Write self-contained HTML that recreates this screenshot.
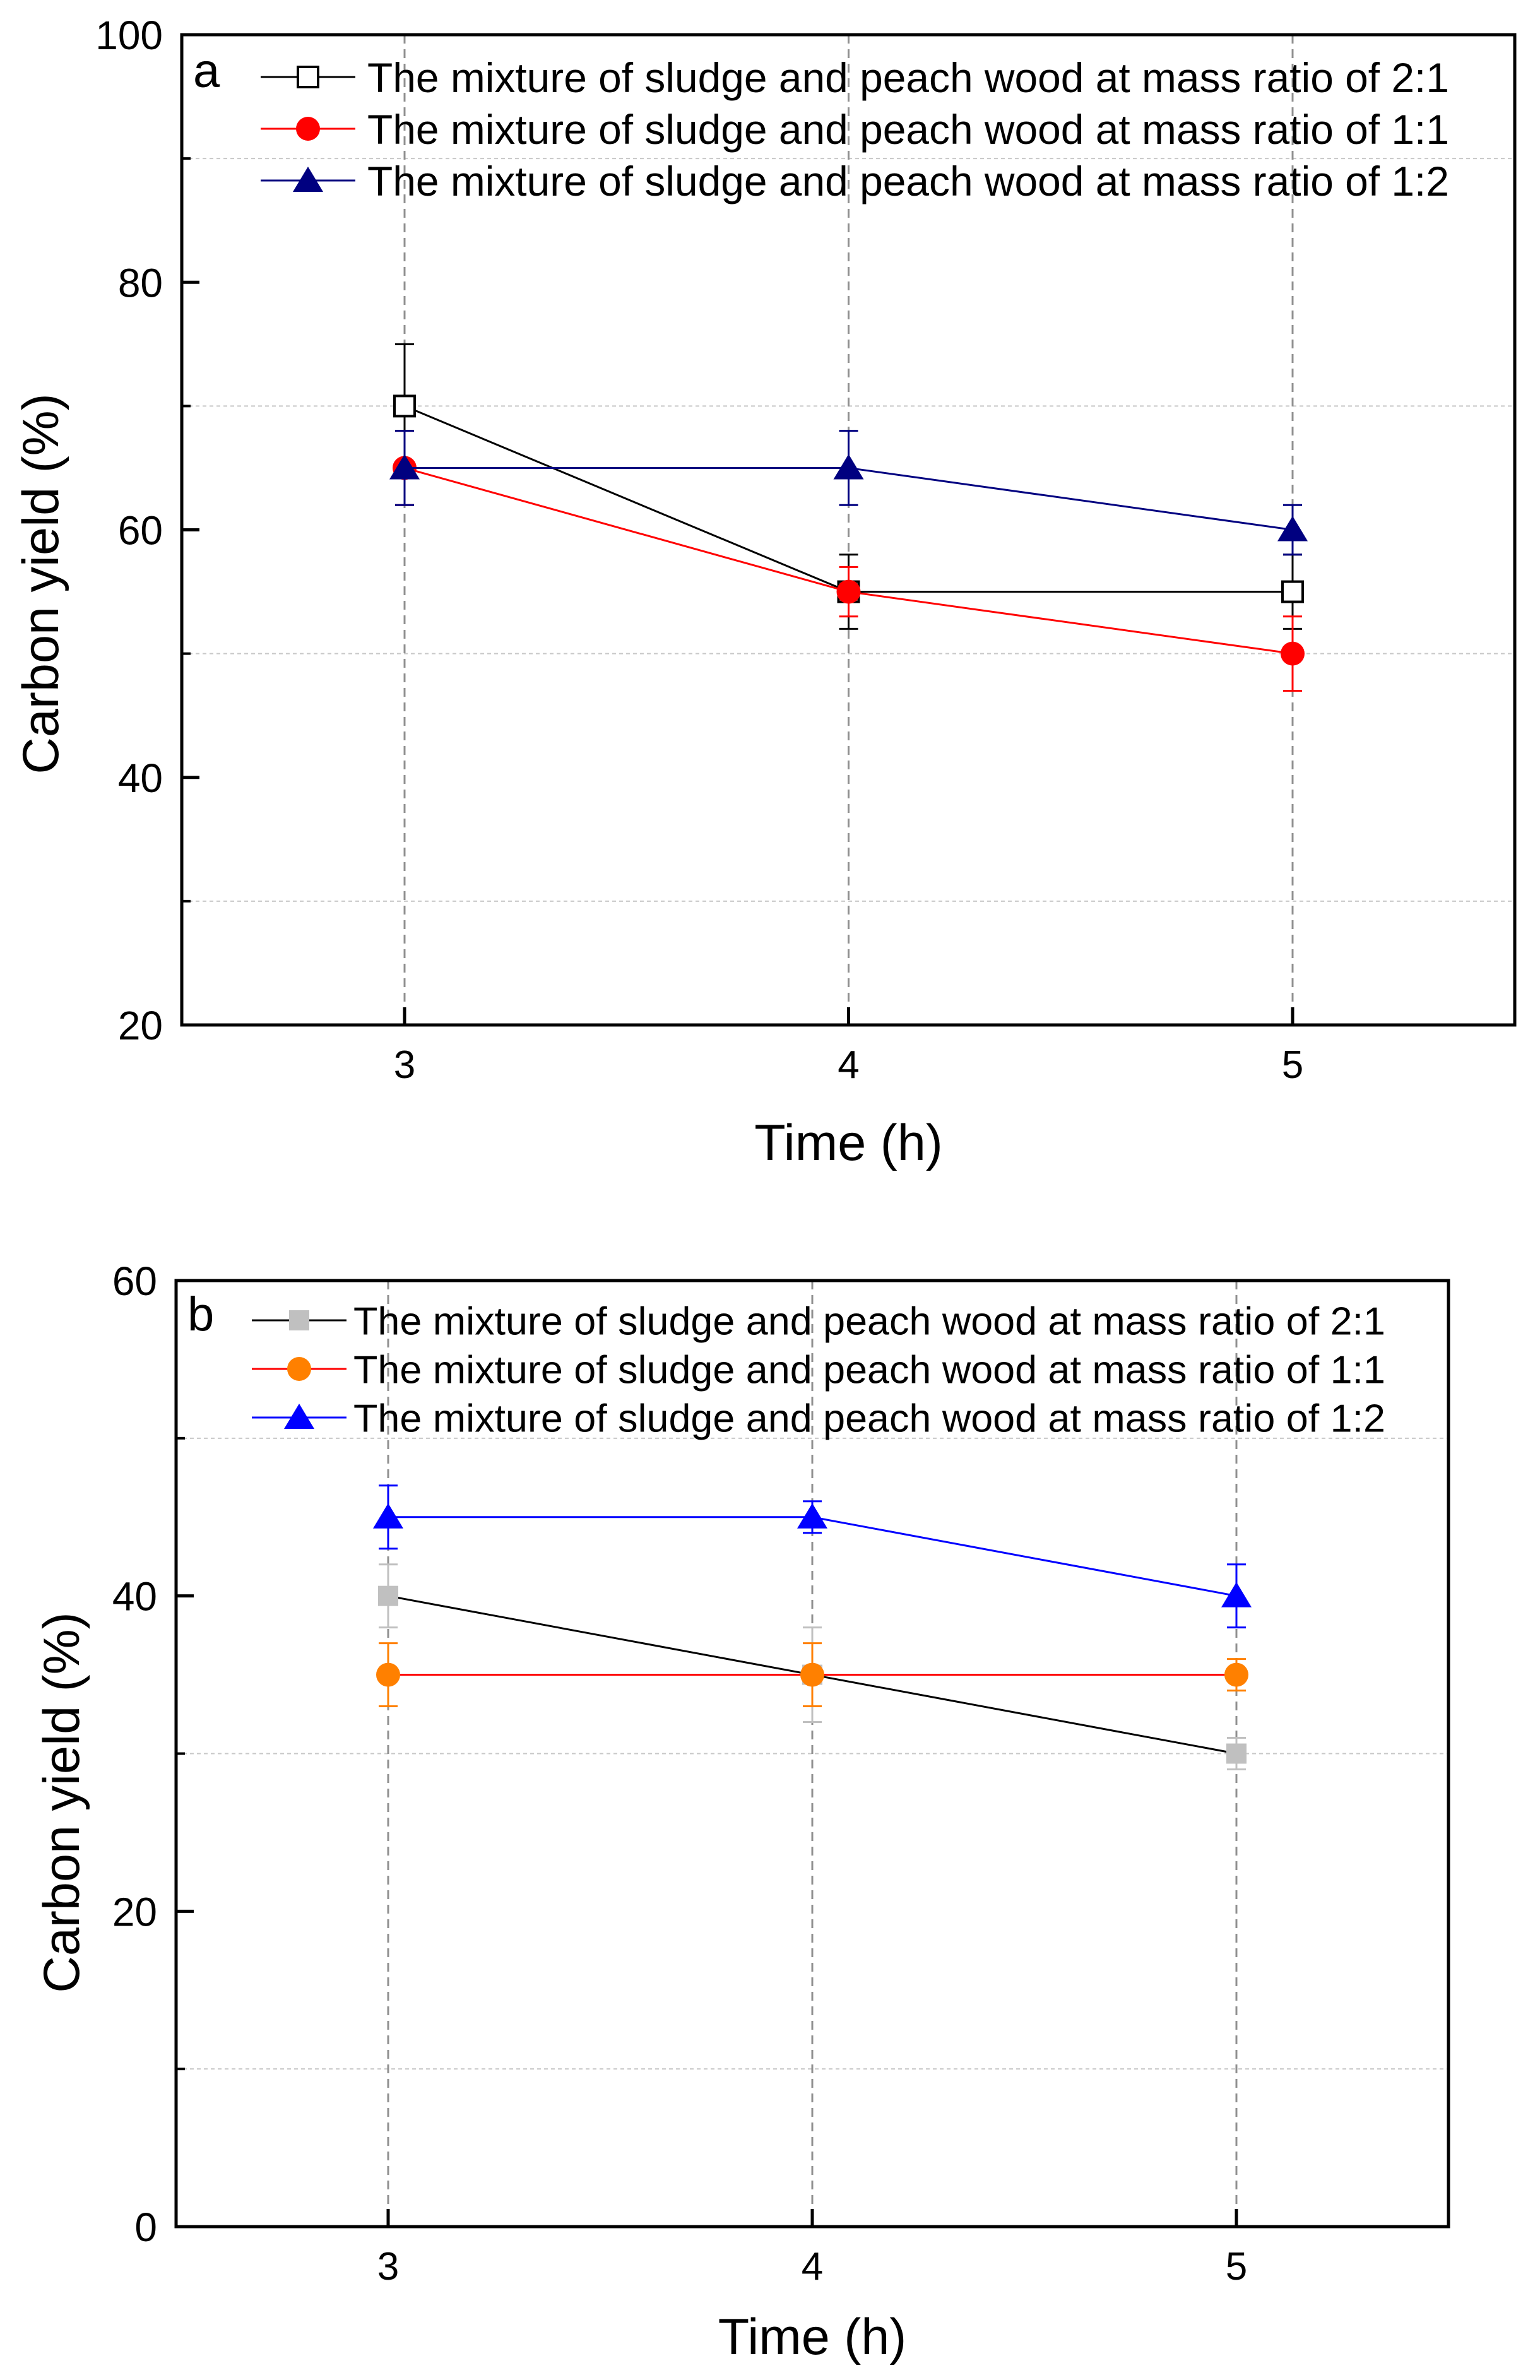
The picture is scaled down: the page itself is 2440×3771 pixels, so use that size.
<!DOCTYPE html>
<html><head><meta charset="utf-8"><style>
html,body{margin:0;padding:0;background:#fff}
svg{display:block;font-family:"Liberation Sans",Arial,sans-serif}
</style></head><body>
<svg id="fig" width="2440" height="3771" viewBox="0 0 2440 3771" xmlns="http://www.w3.org/2000/svg"></svg>
<script>
// Shared x categories
const xCats = [3, 4, 5];
// Panel a data
const aYTicks = [20, 40, 60, 80, 100];
const aMinor = [30, 50, 70, 90];
const a21 = [70, 55, 55], a21Err = [5, 3, 3];
const a11 = [65, 55, 50], a11Err = [3, 2, 3];
const a12 = [65, 65, 60], a12Err = [3, 3, 2];
// Panel b data
const bYTicks = [0, 20, 40, 60];
const bMinor = [10, 30, 50];
const b21 = [40, 35, 30], b21Err = [2, 3, 1];
const b11 = [35, 35, 35], b11Err = [2, 2, 1];
const b12 = [45, 45, 40], b12Err = [2, 1, 2];
const legendLabels = ["The mixture of sludge and peach wood at mass ratio of 2:1",
  "The mixture of sludge and peach wood at mass ratio of 1:1",
  "The mixture of sludge and peach wood at mass ratio of 1:2"];

const NS = "http://www.w3.org/2000/svg";
const svg = document.getElementById('fig');
function mk(tag, attrs, parent, text) {
  const e = document.createElementNS(NS, tag);
  for (const k in attrs) e.setAttribute(k, attrs[k]);
  if (text !== undefined) e.textContent = text;
  (parent || svg).appendChild(e);
  return e;
}
function marker(g, type, cx, cy, fill, stroke, s) {
  let m;
  if (type === 'sq') m = mk('rect', {x: cx - s/2, y: cy - s/2, width: s, height: s, fill: fill, stroke: stroke, 'stroke-width': stroke === 'none' ? 0 : 4}, g);
  else if (type === 'ci') m = mk('circle', {cx: cx, cy: cy, r: s/2, fill: fill}, g);
  else m = mk('polygon', {points: `${cx},${cy - s*0.55} ${cx - s*0.6},${cy + s*0.45} ${cx + s*0.6},${cy + s*0.45}`, fill: fill}, g);
  return m;
}
function panel(P) {
  const g = mk('g', {});
  
  
  const xS = v => P.x3 + (v - 3) * (P.x5 - P.x3) / 2;
  const yS = v => P.bot - (v - P.ymin) * (P.bot - P.top) / (P.ymax - P.ymin);
  P.minor.forEach(v => {
    const l = mk('line', {x1: P.left, x2: P.right, y1: yS(v), y2: yS(v), stroke: '#c8c8c8', 'stroke-width': 2, 'stroke-dasharray': '6,5'}, g);
    
    
    const t = mk('line', {x1: P.left, x2: P.left + 14, y1: yS(v), y2: yS(v), stroke: '#000', 'stroke-width': 4}, g);
    
    
  });
  xCats.forEach(c => {
    const l = mk('line', {x1: xS(c), x2: xS(c), y1: P.top, y2: P.bot, stroke: '#909090', 'stroke-width': 3, 'stroke-dasharray': '14,9'}, g);
    
    
    const t = mk('line', {x1: xS(c), x2: xS(c), y1: P.bot - 28, y2: P.bot, stroke: '#000', 'stroke-width': 5}, g);
    
    
    const tl = mk('text', {x: xS(c), y: P.bot + 84, 'font-size': 62, 'text-anchor': 'middle'}, g, String(c));
    
    
  });
  P.ticks.forEach(v => {
    const t = mk('line', {x1: P.left, x2: P.left + 28, y1: yS(v), y2: yS(v), stroke: '#000', 'stroke-width': 5}, g);
    
    
    const tl = mk('text', {x: P.left - 30, y: yS(v) + 23, 'font-size': 64, 'text-anchor': 'end'}, g, String(v));
    
    
  });
  const fr = mk('rect', {x: P.left, y: P.top, width: P.right - P.left, height: P.bot - P.top, fill: 'none', stroke: '#000', 'stroke-width': 5}, g);
  
  
  P.series.forEach((S, si) => {
    const sg = mk('g', {}, g);
    
    
    const pl = mk('polyline', {points: S.vals.map((v, i) => xS(xCats[i]) + ',' + yS(v)).join(' '), fill: 'none', stroke: S.line, 'stroke-width': 3}, sg);
    
    
    S.vals.forEach((v, i) => {
      const x = xS(xCats[i]), hi = yS(v + S.err[i]), lo = yS(v - S.err[i]);
      const eb = mk('path', {d: `M${x},${hi}V${lo}M${x-15},${hi}H${x+15}M${x-15},${lo}H${x+15}`, stroke: S.errc, 'stroke-width': 3, fill: 'none'}, sg);
      
      
    });
    S.vals.forEach((v, i) => {
      const m = marker(sg, S.m, xS(xCats[i]), yS(v), S.fill, S.stroke, S.size);
      
      
    });
    const ly = P.legY + si * P.legDy;
    const lg = mk('g', {}, g);
    
    
    mk('line', {x1: P.legX, x2: P.legX + 150, y1: ly, y2: ly, stroke: S.line, 'stroke-width': 3}, lg);
    marker(lg, S.m, P.legX + 75, ly, S.fill, S.stroke, S.size);
    mk('text', {x: P.legTx, y: ly + P.legFs * 0.36, 'font-size': P.legFs, textLength: P.legW, lengthAdjust: 'spacingAndGlyphs'}, lg, legendLabels[si]);
  });
  const pl = mk('text', {x: P.left + 18, y: P.legY + 16, 'font-size': 76}, g, P.letter);
  
  
  const xt = mk('text', {x: (P.x3 + P.x5) / 2, y: P.xtY, 'font-size': 81, 'text-anchor': 'middle'}, g, 'Time (h)');
  
  
  const yt = mk('text', {x: 0, y: 0, 'font-size': 81, 'text-anchor': 'middle', transform: `translate(${P.ytX},${P.ytY}) rotate(-90)`}, g, 'Carbon yield (%)');
  
  
}
panel({name: 'chart-a', letter: 'a', left: 288, right: 2400, top: 55, bot: 1624, x3: 641, x5: 2048,
  ymin: 20, ymax: 100, ticks: aYTicks, minor: aMinor,
  legX: 413, legTx: 582, legY: 122, legDy: 82, legFs: 66, legW: 1714, xtY: 1838, ytX: 92, ytY: 925,
  series: [
    {key: '2-1', vals: a21, err: a21Err, m: 'sq', fill: '#fff', stroke: '#000', line: '#000', errc: '#000', size: 32},
    {key: '1-1', vals: a11, err: a11Err, m: 'ci', fill: '#ff0000', stroke: 'none', line: '#ff0000', errc: '#ff0000', size: 38},
    {key: '1-2', vals: a12, err: a12Err, m: 'tr', fill: '#000080', stroke: 'none', line: '#000080', errc: '#000080', size: 40}]});
panel({name: 'chart-b', letter: 'b', left: 279, right: 2295, top: 2029, bot: 3528, x3: 615, x5: 1959,
  ymin: 0, ymax: 60, ticks: bYTicks, minor: bMinor,
  legX: 399, legTx: 560, legY: 2092, legDy: 77, legFs: 62, legW: 1635, xtY: 3730, ytX: 125, ytY: 2856,
  series: [
    {key: '2-1', vals: b21, err: b21Err, m: 'sq', fill: '#c0c0c0', stroke: 'none', line: '#000', errc: '#c0c0c0', size: 32},
    {key: '1-1', vals: b11, err: b11Err, m: 'ci', fill: '#ff8000', stroke: 'none', line: '#ff0000', errc: '#ff8000', size: 38},
    {key: '1-2', vals: b12, err: b12Err, m: 'tr', fill: '#0000ff', stroke: 'none', line: '#0000ff', errc: '#0000ff', size: 40}]});
</script>
</body></html>
